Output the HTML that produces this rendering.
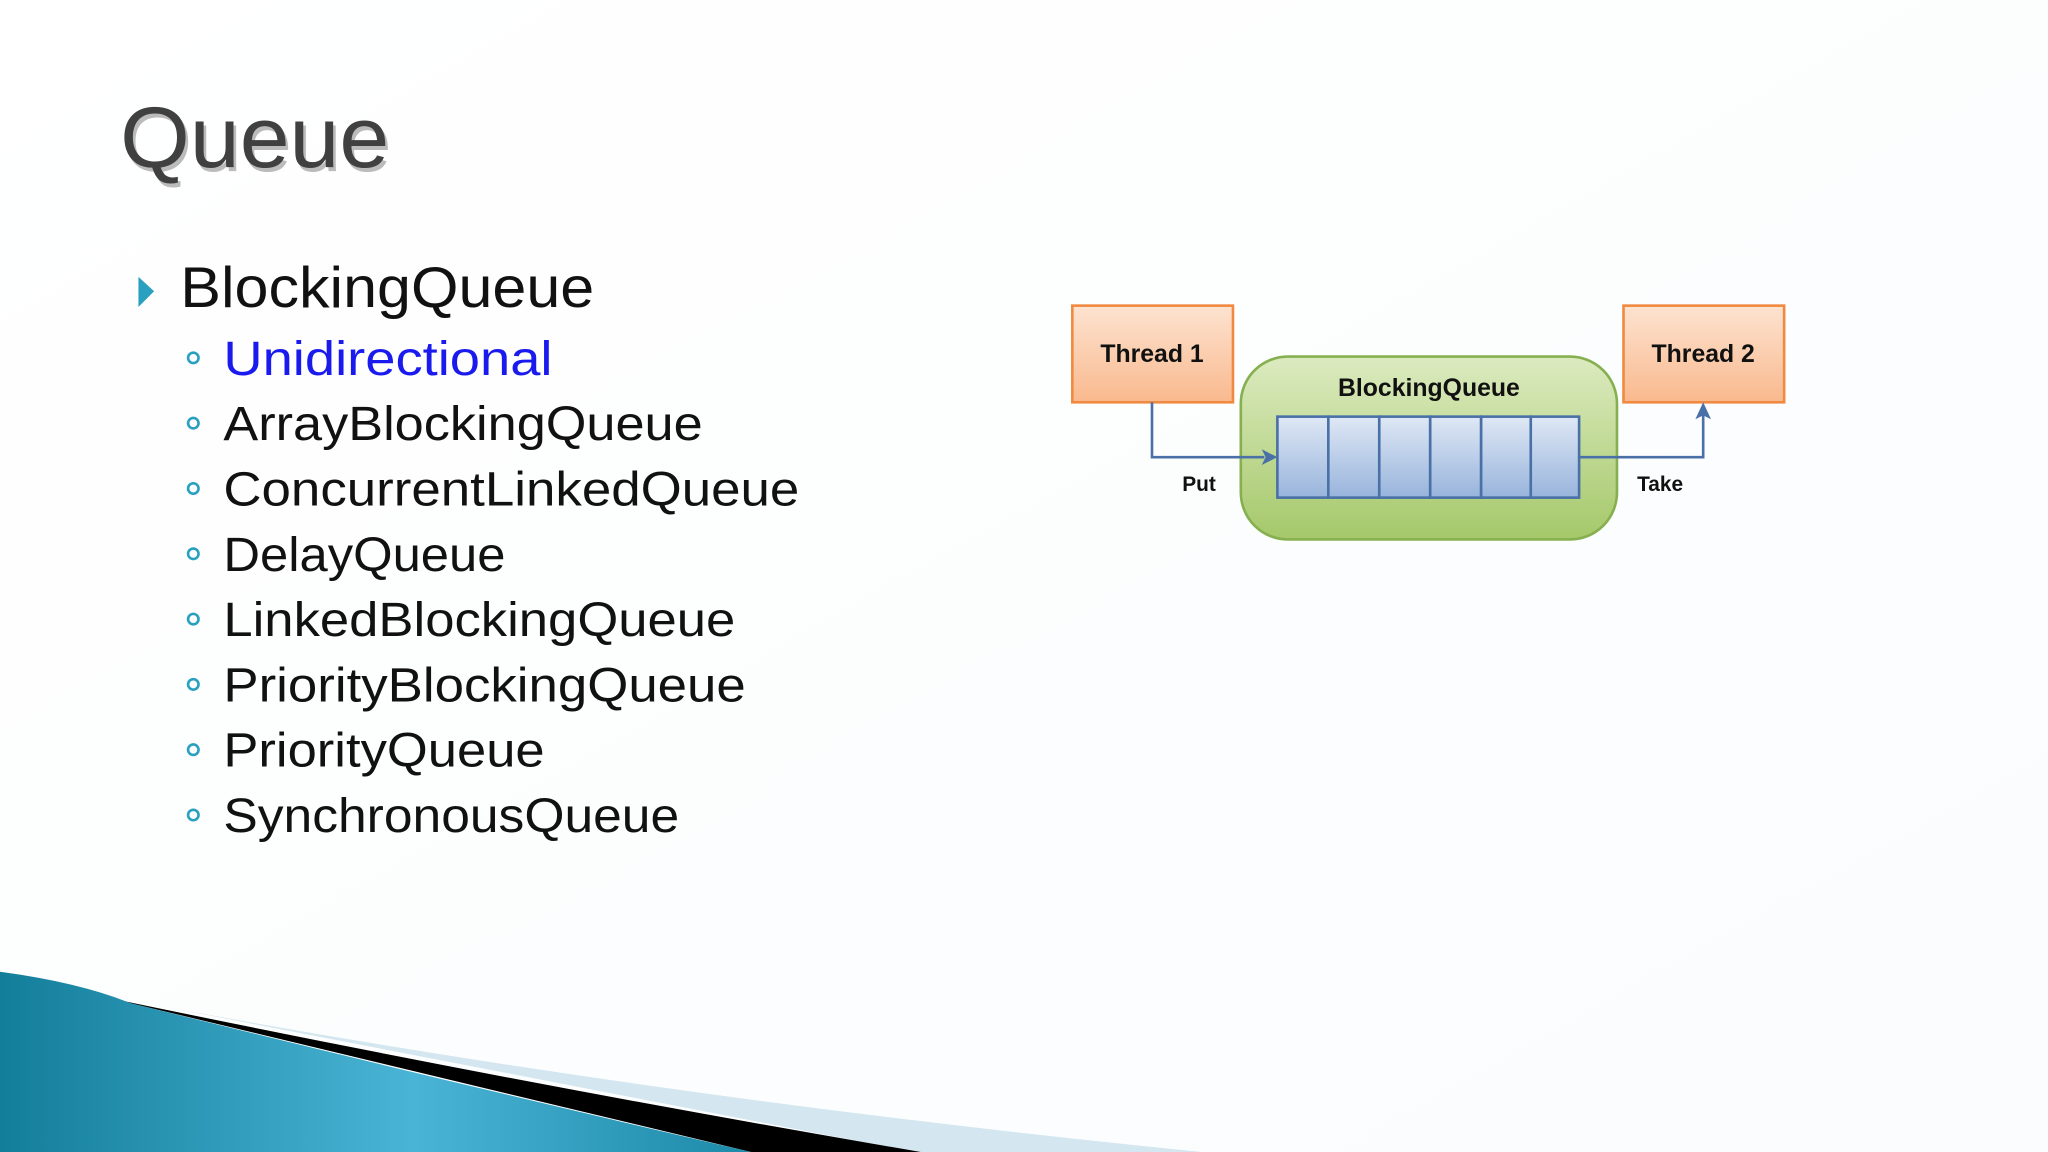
<!DOCTYPE html>
<html><head><meta charset="utf-8"><style>
html,body{margin:0;padding:0;background:#fff;}
svg{display:block;}
</style></head><body>
<svg width="2048" height="1152" viewBox="0 0 1568 882" xmlns="http://www.w3.org/2000/svg">
<defs>
<linearGradient id="bg" x1="0" y1="0" x2="1" y2="1"><stop offset="0" stop-color="#ffffff"/><stop offset="1" stop-color="#fafcfd"/></linearGradient>
<linearGradient id="or" x1="0" y1="0" x2="0" y2="1"><stop offset="0" stop-color="#fde3d0"/><stop offset="1" stop-color="#f9b98e"/></linearGradient>
<linearGradient id="gr" x1="0" y1="0" x2="0" y2="1"><stop offset="0" stop-color="#dcebc0"/><stop offset="1" stop-color="#a5c86a"/></linearGradient>
<linearGradient id="bl" x1="0" y1="0" x2="0" y2="1"><stop offset="0" stop-color="#dfe8f5"/><stop offset="1" stop-color="#98b4dc"/></linearGradient>
<linearGradient id="teal" x1="0" y1="0" x2="1" y2="0"><stop offset="0" stop-color="#137e9a"/><stop offset="0.55" stop-color="#4ab4d6"/><stop offset="1" stop-color="#1d8aa8"/></linearGradient>
</defs>
<rect width="1568" height="882" fill="url(#bg)"/>
<path d="M127,771 Q500,840 920,882 L700,882 Z" fill="#d4e6f0"/>
<path d="M83,764 Q400,830 705,882 L575,882 Z" fill="#000"/>
<path d="M0,744 Q60,752 100,768 Q350,830 575,882 L0,882 Z" fill="url(#teal)"/>
<text x="94" y="131" font-family="Liberation Sans, sans-serif" font-size="66" fill="#bbb" textLength="206" lengthAdjust="spacingAndGlyphs">Queue</text>
<text x="92" y="128" font-family="Liberation Sans, sans-serif" font-size="66" fill="#404040" textLength="206" lengthAdjust="spacingAndGlyphs">Queue</text>
<path d="M106,212 L118,223 L106,235 Z" fill="#2aa0c0"/>
<g font-family="Liberation Sans, sans-serif">
<text x="138" y="235" font-size="44" fill="#111" textLength="317" lengthAdjust="spacingAndGlyphs">BlockingQueue</text>
<g font-size="37" fill="#111">
<text x="171" y="287" fill="#1a1aee" textLength="252" lengthAdjust="spacingAndGlyphs">Unidirectional</text>
<text x="171" y="337" textLength="367" lengthAdjust="spacingAndGlyphs">ArrayBlockingQueue</text>
<text x="171" y="387" textLength="441" lengthAdjust="spacingAndGlyphs">ConcurrentLinkedQueue</text>
<text x="171" y="437" textLength="216" lengthAdjust="spacingAndGlyphs">DelayQueue</text>
<text x="171" y="487" textLength="392" lengthAdjust="spacingAndGlyphs">LinkedBlockingQueue</text>
<text x="171" y="537" textLength="400" lengthAdjust="spacingAndGlyphs">PriorityBlockingQueue</text>
<text x="171" y="587" textLength="246" lengthAdjust="spacingAndGlyphs">PriorityQueue</text>
<text x="171" y="637" textLength="349" lengthAdjust="spacingAndGlyphs">SynchronousQueue</text>
</g>
<g fill="none" stroke="#2aa0c0" stroke-width="2">
<circle cx="148" cy="274" r="4"/><circle cx="148" cy="324" r="4"/><circle cx="148" cy="374" r="4"/><circle cx="148" cy="424" r="4"/>
<circle cx="148" cy="474" r="4"/><circle cx="148" cy="524" r="4"/><circle cx="148" cy="574" r="4"/><circle cx="148" cy="624" r="4"/>
</g>
</g>
<rect x="821" y="234" width="123" height="74" fill="url(#or)" stroke="#f08a40" stroke-width="2"/>
<rect x="1243" y="234" width="123" height="74" fill="url(#or)" stroke="#f08a40" stroke-width="2"/>
<rect x="950" y="273" width="288" height="140" rx="36" fill="url(#gr)" stroke="#86b050" stroke-width="2"/>
<g fill="url(#bl)" stroke="#4a70a8" stroke-width="2">
<rect x="978" y="319" width="39" height="62"/><rect x="1017" y="319" width="39" height="62"/><rect x="1056" y="319" width="39" height="62"/>
<rect x="1095" y="319" width="39" height="62"/><rect x="1134" y="319" width="38" height="62"/><rect x="1172" y="319" width="37" height="62"/>
</g>
<g fill="none" stroke="#4a70a8" stroke-width="2">
<path d="M882,308 V350 H968"/>
<path d="M1209,350 H1304 V318"/>
</g>
<path d="M978,350 L966,344 L969,350 L966,356 Z" fill="#4a70a8"/>
<path d="M1304,308 L1298,321 L1304,318 L1310,321 Z" fill="#4a70a8"/>
<g font-family="Liberation Sans, sans-serif" font-weight="bold" fill="#111" text-anchor="middle">
<text x="882" y="277" font-size="19">Thread 1</text>
<text x="1304" y="277" font-size="19">Thread 2</text>
<text x="1094" y="303" font-size="19">BlockingQueue</text>
<text x="918" y="376" font-size="16">Put</text>
<text x="1271" y="376" font-size="16">Take</text>
</g>
</svg>
</body></html>
